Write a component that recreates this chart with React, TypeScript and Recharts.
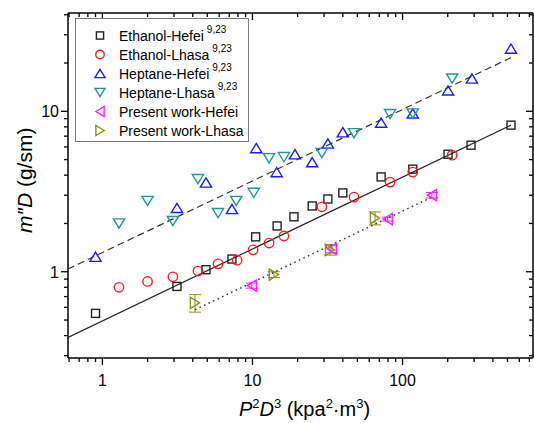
import React from "react";
import { ScatterChart, Scatter, XAxis, YAxis, Legend, ErrorBar, Label } from "recharts";

// values (log-log)
const ethanolHefeiX = [0.9, 3.14, 4.9, 7.3, 10.5, 14.6, 18.9, 25, 31.8, 40, 72, 117, 201, 286, 528];
const ethanolHefeiY = [0.55, 0.81, 1.03, 1.2, 1.65, 1.93, 2.2, 2.57, 2.84, 3.1, 3.9, 4.36, 5.4, 6.15, 8.2];

const ethanolLhasaX = [1.29, 2.0, 2.95, 4.33, 5.9, 7.9, 10.1, 12.9, 16.2, 29, 47.5, 82.6, 117, 214];
const ethanolLhasaY = [0.8, 0.87, 0.93, 1.01, 1.12, 1.18, 1.37, 1.51, 1.67, 2.54, 2.92, 3.62, 4.18, 5.33];

const heptaneHefeiX = [0.9, 3.14, 4.9, 7.3, 10.6, 14.5, 19.2, 25, 31.8, 40, 72, 117, 201, 290, 528];
const heptaneHefeiY = [1.24, 2.5, 3.6, 2.46, 5.9, 4.18, 5.4, 4.82, 6.3, 7.4, 8.5, 9.7, 13.5, 16, 24.6];

const heptaneLhasaX = [1.29, 2.0, 2.95, 4.33, 5.9, 7.8, 10.2, 12.9, 16.2, 29, 47.5, 82.6, 117, 214];
const heptaneLhasaY = [2.0, 2.76, 2.07, 3.78, 2.32, 2.76, 3.1, 5.1, 5.18, 5.5, 7.3, 9.6, 9.7, 16];

const presentHefeiX = [9.9, 33.8, 79.6, 157];
const presentHefeiY = [0.82, 1.39, 2.13, 3.0];
const presentHefeiErr = [0.03, 0.08, 0.06, 0.12];

const presentLhasaX = [4.14, 13.9, 32.9, 65.6];
const presentLhasaY = [0.64, 0.96, 1.37, 2.16];
const presentLhasaErr = [0.08, 0.04, 0.1, 0.2];

// fitted lines (end points)
const heptaneFitX = [0.59, 528];
const heptaneFitY = [1.04, 21.6];
const ethanolFitX = [0.59, 528];
const ethanolFitY = [0.39, 8.2];
const presentFitX = [4.14, 157];
const presentFitY = [0.58, 2.92];

const xDomain = [0.59, 740];
const yDomain = [0.29, 41];
const xTicks = [0.6, 0.7, 0.8, 0.9, 1, 2, 3, 4, 5, 6, 7, 8, 9, 10, 20, 30, 40, 50, 60, 70, 80, 90, 100, 200, 300, 400, 500, 600, 700];
const yTicks = [0.3, 0.4, 0.5, 0.6, 0.7, 0.8, 0.9, 1, 2, 3, 4, 5, 6, 7, 8, 9, 10, 20, 30, 40];

const FONT = "Arial, 'Liberation Sans', Helvetica, sans-serif";

const pts = (xs: number[], ys: number[], errs?: number[]) =>
  xs.map((x, i) => ({ x, y: ys[i], err: errs ? errs[i] : 0 }));

type Kind = "square" | "circle" | "up" | "down" | "left" | "right";

function marker(kind: Kind, cx: number, cy: number, color: string, k = 1) {
  const sw = 1.4;
  const common = { fill: "none", stroke: color, strokeWidth: sw };
  if (kind === "square") {
    const h = 4 * k;
    return <rect x={cx - h} y={cy - h} width={2 * h} height={2 * h} {...common} />;
  }
  if (kind === "circle") return <circle cx={cx} cy={cy} r={4.7 * k} {...common} />;
  const a = 5.6 * k;
  const b = 4.6 * k;
  let p = "";
  if (kind === "up") p = `${cx},${cy - b} ${cx + a},${cy + b} ${cx - a},${cy + b}`;
  if (kind === "down") p = `${cx - a},${cy - b} ${cx + a},${cy - b} ${cx},${cy + b}`;
  if (kind === "left") p = `${cx - b},${cy} ${cx + b},${cy - a} ${cx + b},${cy + a}`;
  if (kind === "right") p = `${cx + b},${cy} ${cx - b},${cy - a} ${cx - b},${cy + a}`;
  return <polygon points={p} {...common} strokeLinejoin="miter" />;
}

const series = [
  { name: "Ethanol-Hefei", sup: true, kind: "square" as Kind, color: "#222222", data: pts(ethanolHefeiX, ethanolHefeiY) },
  { name: "Ethanol-Lhasa", sup: true, kind: "circle" as Kind, color: "#ff1a1a", data: pts(ethanolLhasaX, ethanolLhasaY) },
  { name: "Heptane-Hefei", sup: true, kind: "up" as Kind, color: "#1a1aff", data: pts(heptaneHefeiX, heptaneHefeiY) },
  { name: "Heptane-Lhasa", sup: true, kind: "down" as Kind, color: "#1f9696", data: pts(heptaneLhasaX, heptaneLhasaY) },
  { name: "Present work-Hefei", sup: false, kind: "left" as Kind, color: "#ff1aff", data: pts(presentHefeiX, presentHefeiY, presentHefeiErr) },
  { name: "Present work-Lhasa", sup: false, kind: "right" as Kind, color: "#8f8f10", data: pts(presentLhasaX, presentLhasaY, presentLhasaErr) },
];

const isMajor = (v: number) => Math.abs(Math.log10(v) - Math.round(Math.log10(v))) < 1e-6;

const BottomTick = (props: any) => {
  const { x, y, payload } = props;
  const major = isMajor(payload.value);
  return (
    <g>
      <line x1={x} x2={x} y1={y} y2={y + (major ? 7 : 4)} stroke="#000" strokeWidth={1.3} />
      {major && (
        <text x={x} y={y + 28} textAnchor="middle" fontSize={16} fontFamily={FONT} fill="#000">
          {payload.value}
        </text>
      )}
    </g>
  );
};

const TopTick = (props: any) => {
  const { x, y, payload } = props;
  const major = isMajor(payload.value);
  return <line x1={x} x2={x} y1={y} y2={y + (major ? 7 : 4)} stroke="#000" strokeWidth={1.3} />;
};

const LeftTick = (props: any) => {
  const { x, y, payload } = props;
  const major = isMajor(payload.value);
  return (
    <g>
      <line x1={x - (major ? 7 : 4)} x2={x} y1={y} y2={y} stroke="#000" strokeWidth={1.3} />
      {major && (
        <text x={x - 9} y={y} dy={6} textAnchor="end" fontSize={16} fontFamily={FONT} fill="#000">
          {payload.value}
        </text>
      )}
    </g>
  );
};

const RightTick = (props: any) => {
  const { x, y, payload } = props;
  const major = isMajor(payload.value);
  return <line x1={x - (major ? 7 : 4)} x2={x} y1={y} y2={y} stroke="#000" strokeWidth={1.3} />;
};

const XTitle = (props: any) => {
  const vb = props.viewBox;
  return (
    <text x={vb.x + vb.width / 2 + 4} y={vb.y + 58} textAnchor="middle" fontSize={20} fontFamily={FONT} fill="#000">
      <tspan fontStyle="italic">P</tspan>
      <tspan fontSize={13} dy={-8}>2</tspan>
      <tspan fontStyle="italic" dy={8}>D</tspan>
      <tspan fontSize={13} dy={-8}>3</tspan>
      <tspan dy={8}> (kpa</tspan>
      <tspan fontSize={13} dy={-8}>2</tspan>
      <tspan dy={8}>·m</tspan>
      <tspan fontSize={13} dy={-8}>3</tspan>
      <tspan dy={8}>)</tspan>
    </text>
  );
};

const LegendBox = () => (
  <div
    style={{
      width: 174,
      height: 124,
      border: "1px solid #7a7a7a",
      boxSizing: "border-box",
      background: "#fff",
      paddingTop: 7,
      fontFamily: FONT,
      fontSize: 14,
      color: "#000",
    }}
  >
    {series.map((s) => (
      <div key={s.name} style={{ display: "flex", alignItems: "center", height: 19, whiteSpace: "nowrap" }}>
        <svg width={43} height={19} style={{ flex: "none" }}>
          {marker(s.kind, 24, 9.5, s.color, 0.9)}
        </svg>
        <span>{s.name}</span>
        {s.sup && (
          <span style={{ fontSize: 10, position: "relative", top: -6, marginLeft: 3 }}>9,23</span>
        )}
      </div>
    ))}
  </div>
);

const noDot = () => <g />;

export default function App() {
  return (
    <div style={{ position: "absolute", left: 0, top: 0, width: 534, height: 423, background: "#fff" }}>
      <ScatterChart width={534} height={423} margin={{ top: 12, right: 0, bottom: 0, left: 0 }}>
        <XAxis
          type="number"
          dataKey="x"
          scale="log"
          domain={xDomain}
          allowDataOverflow
          ticks={xTicks}
          interval={0}
          height={65}
          tickSize={0}
          tickMargin={0}
          tickLine={false}
          tick={<BottomTick />}
          axisLine={{ stroke: "#000", strokeWidth: 1.5 }}
        >
          <Label content={<XTitle />} />
        </XAxis>
        <XAxis
          xAxisId="top"
          orientation="top"
          type="number"
          dataKey="x"
          scale="log"
          domain={xDomain}
          allowDataOverflow
          ticks={xTicks}
          interval={0}
          height={1}
          tickSize={0}
          tickMargin={0}
          tickLine={false}
          tick={<TopTick />}
          axisLine={{ stroke: "#000", strokeWidth: 1.5 }}
        />
        <YAxis
          type="number"
          dataKey="y"
          scale="log"
          domain={yDomain}
          allowDataOverflow
          ticks={yTicks}
          interval={0}
          width={68}
          tickSize={0}
          tickMargin={0}
          tickLine={false}
          tick={<LeftTick />}
          axisLine={{ stroke: "#000", strokeWidth: 1.5 }}
        />
        <YAxis
          yAxisId="right"
          orientation="right"
          type="number"
          dataKey="y"
          scale="log"
          domain={yDomain}
          allowDataOverflow
          ticks={yTicks}
          interval={0}
          width={1}
          tickSize={0}
          tickMargin={0}
          tickLine={false}
          tick={<RightTick />}
          axisLine={{ stroke: "#000", strokeWidth: 1.5 }}
        />
        <Scatter
          name="heptane fit"
          data={pts(heptaneFitX, heptaneFitY)}
          line={{ stroke: "#333", strokeWidth: 1.2, strokeDasharray: "7 4" }}
          shape={noDot}
          legendType="none"
          isAnimationActive={false}
        />
        <Scatter
          name="ethanol fit"
          data={pts(ethanolFitX, ethanolFitY)}
          line={{ stroke: "#222", strokeWidth: 1.2 }}
          shape={noDot}
          legendType="none"
          isAnimationActive={false}
        />
        <Scatter
          name="present fit"
          data={pts(presentFitX, presentFitY)}
          line={{ stroke: "#333", strokeWidth: 1.5, strokeDasharray: "1.5 3.5" }}
          shape={noDot}
          legendType="none"
          isAnimationActive={false}
        />
        {series.map((s) => (
          <Scatter
            key={s.name}
            name={s.name}
            data={s.data}
            isAnimationActive={false}
            shape={(p: any) => marker(s.kind, p.cx, p.cy, s.color)}
          >
            {s.kind === "left" || s.kind === "right" ? (
              <ErrorBar dataKey="err" direction="y" width={6} stroke={s.color} strokeWidth={1} />
            ) : null}
          </Scatter>
        ))}
        {/* y-axis title, drawn straight into the chart svg */}
        <g transform="translate(32 233) rotate(-90)">
          <text x={0} y={0} fontSize={21} fontFamily={FONT} fill="#000">
            <tspan fontStyle="italic">m″D</tspan>
            <tspan> (g/sm)</tspan>
          </text>
        </g>
        <Legend
          layout="horizontal"
          verticalAlign="middle"
          align="center"
          wrapperStyle={{ position: "absolute", left: 75, top: 18, width: 174, height: 124, margin: 0 }}
          content={() => <LegendBox />}
        />
      </ScatterChart>
    </div>
  );
}
